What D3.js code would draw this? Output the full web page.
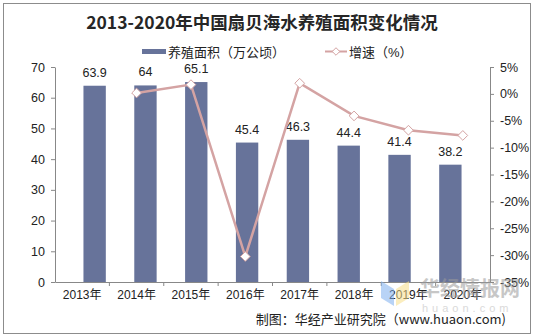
<!DOCTYPE html>
<html>
<head>
<meta charset="utf-8">
<script src="https://cdn.jsdelivr.net/npm/d3@7"></script>
<style>
  body { margin: 0; background: #fff; }
  svg text { font-family: "Liberation Sans", Arial, "Noto Sans CJK SC", sans-serif; }
</style>
</head>
<body>
<div id="chart"></div>
<script>
const years = ["2013年", "2014年", "2015年", "2016年", "2017年", "2018年", "2019年", "2020年"];
const area = [63.9, 64, 65.1, 45.4, 46.3, 44.4, 41.4, 38.2];
const growthYears = ["2014年", "2015年", "2016年", "2017年", "2018年", "2019年", "2020年"];
const growth = [0.16, 1.72, -30.26, 1.98, -4.10, -6.76, -7.73];
const leftTicks = [0, 10, 20, 30, 40, 50, 60, 70];
const rightTicks = [5, 0, -5, -10, -15, -20, -25, -30, -35];

const W = 534, H = 336;
const MARGIN = { TOP: 67, BOTTOM: 54, LEFT: 55, RIGHT: 44 };
const BAR_COLOR = "#67739a";
const LINE_COLOR = "#d4a3a3";
const CJK = '"Noto Sans CJK SC", sans-serif';

const svg = d3.select("#chart").append("svg")
    .attr("width", W)
    .attr("height", H);

// outer frame
svg.append("rect")
    .attr("x", 3.5).attr("y", 3.5)
    .attr("width", W - 7).attr("height", H - 6)
    .attr("fill", "none").attr("stroke", "#8c8c8c");

svg.append("text")
    .attr("x", 262).attr("y", 29)
    .attr("text-anchor", "middle")
    .style("font-family", CJK)
    .style("font-size", "17.5px")
    .style("font-weight", "bold")
    .attr("fill", "#262626")
    .text("2013-2020年中国扇贝海水养殖面积变化情况");

// legend
const leg = svg.append("g").style("font-family", CJK).style("font-size", "13px").attr("fill", "#222");
leg.append("rect").attr("x", 142).attr("y", 49).attr("width", 24).attr("height", 5).attr("fill", BAR_COLOR);
leg.append("text").attr("x", 168).attr("y", 57).text("养殖面积（万公顷）");
leg.append("line").attr("x1", 325).attr("x2", 347).attr("y1", 51.5).attr("y2", 51.5)
    .attr("stroke", LINE_COLOR).attr("stroke-width", 2);
leg.append("path").attr("d", d3.symbol(d3.symbolDiamond2, 36)())
    .attr("transform", "translate(336,51.5)")
    .attr("fill", "#fff").attr("stroke", LINE_COLOR).attr("stroke-width", 1);
leg.append("text").attr("x", 349).attr("y", 57).text("增速（%）");

const x0 = MARGIN.LEFT, x1 = W - MARGIN.RIGHT;
const y0 = H - MARGIN.BOTTOM, y1 = MARGIN.TOP;

const x = d3.scaleBand().domain(years).range([x0, x1]).padding(0.56);
const xb = d3.scaleBand().domain(years).range([x0, x1]);
const y = d3.scaleLinear().domain([0, 70]).range([y0, y1]);
const yr = d3.scaleLinear().domain([-35, 5]).range([y0, y1]);

// left axis
const gl = svg.append("g")
    .attr("transform", `translate(${x0},0)`)
    .call(d3.axisLeft(y).tickValues(leftTicks).tickSize(4).tickSizeOuter(0).tickPadding(6));
// right axis
const gr = svg.append("g")
    .attr("transform", `translate(${x1},0)`)
    .call(d3.axisRight(yr).tickValues(rightTicks).tickSize(4).tickSizeOuter(0).tickPadding(6)
        .tickFormat(d => d + "%"));
// bottom axis: ticks at band boundaries
const gb = svg.append("g")
    .attr("transform", `translate(0,${y0})`)
    .call(d3.axisBottom(xb).tickSize(0).tickPadding(8));
gb.selectAll(".bound").data(years.slice(1))
    .enter().append("line")
    .attr("x1", d => xb(d)).attr("x2", d => xb(d))
    .attr("y1", 0).attr("y2", 4)
    .attr("stroke", "#888");

[gl, gr, gb].forEach(g => {
    g.selectAll("path.domain").attr("stroke", "#888");
    g.selectAll(".tick line").attr("stroke", "#888");
    g.selectAll(".tick text")
        .style("font-family", '"Liberation Sans", Arial, "Noto Sans CJK SC", sans-serif')
        .style("font-size", "12.5px")
        .attr("fill", "#222");
});
gb.selectAll(".tick text").style("font-size", "12px");

// bars
svg.selectAll("rect.bar").data(years)
    .enter().append("rect")
    .attr("class", "bar")
    .attr("x", d => x(d))
    .attr("y", (d, i) => y(area[i]))
    .attr("width", x.bandwidth())
    .attr("height", (d, i) => y0 - y(area[i]))
    .attr("fill", BAR_COLOR);

svg.selectAll("text.lab").data(years)
    .enter().append("text")
    .attr("class", "lab")
    .attr("x", d => x(d) + x.bandwidth() / 2)
    .attr("y", (d, i) => y(area[i]) - 9)
    .attr("text-anchor", "middle")
    .style("font-size", "12.5px")
    .attr("fill", "#222")
    .text((d, i) => area[i]);

// growth line
const cx = d => xb(d) + xb.bandwidth() / 2;
const line = d3.line().x((d, i) => cx(growthYears[i])).y(d => yr(d));
svg.append("path")
    .datum(growth)
    .attr("d", line)
    .attr("fill", "none")
    .attr("stroke", LINE_COLOR)
    .attr("stroke-width", 2.5);
svg.selectAll("path.pt").data(growth)
    .enter().append("path")
    .attr("class", "pt")
    .attr("d", d3.symbol(d3.symbolDiamond2, 60)())
    .attr("transform", (d, i) => `translate(${cx(growthYears[i])},${yr(d)})`)
    .attr("fill", "#fff")
    .attr("stroke", LINE_COLOR)
    .attr("stroke-width", 1);

// watermark
const wm = svg.append("g").attr("opacity", 0.55);
wm.append("path").attr("d", "M381,281 L394,289 L394,306 L381,298 Z").attr("fill", "#7fb0f0");
wm.append("path").attr("d", "M396,289 L409,281 L409,298 L396,306 Z").attr("fill", "#f8e08a");
wm.append("text").attr("x", 420).attr("y", 296)
    .style("font-family", CJK).style("font-size", "20px").style("font-weight", "bold")
    .attr("fill", "#9a9a9a").text("华经情报网");
wm.append("text").attr("x", 422).attr("y", 312)
    .style("font-size", "11px").style("letter-spacing", "4px")
    .attr("fill", "#bbb").text("huaon.com");

svg.append("text")
    .attr("x", 506).attr("y", 324)
    .attr("text-anchor", "end")
    .style("font-family", CJK)
    .style("font-size", "13px")
    .attr("fill", "#222")
    .text("制图：华经产业研究院（www.huaon.com)");
</script>
</body>
</html>
